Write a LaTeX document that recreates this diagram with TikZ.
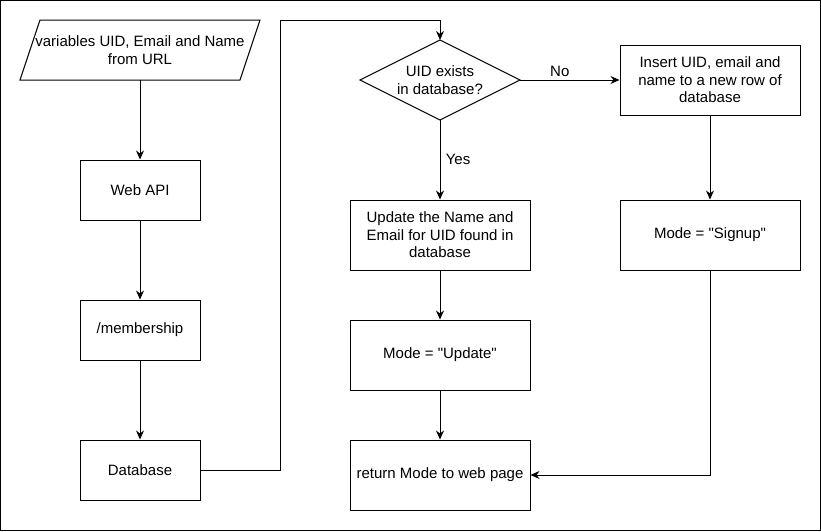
\documentclass[tikz,border=0pt]{standalone}
\usepackage{fontspec}
\setmainfont{Liberation Sans}
\usepackage{tikz}
\usetikzlibrary{arrows.meta}

\tikzset{
	box/.style={draw,line width=1pt,minimum width=120pt,minimum height=60pt,align=center,inner sep=2pt},
	widebox/.style={box,minimum width=180pt,minimum height=70pt},
	frame/.style={minimum width=#1,align=center,inner sep=0pt,outer sep=0pt},
	flow/.style={line width=1pt,-{Stealth[length=9pt,width=8pt]}}
}
\newcommand{\qt}[1]{\textquotedbl#1\textquotedbl}

\begin{document}
\begin{tikzpicture}[x=1pt,y=-1pt,font=\fontsize{15}{17.5}\selectfont]
		\useasboundingbox (0,0) rectangle (821,531);
		\draw[line width=1pt] (0.5,0.5) rectangle (820.5,530.5);
		% left column
		\node[frame=220pt,minimum height=60pt] (vars) at (140,50) {variables UID, Email and Name\\from URL};
		\draw[line width=1pt] ([xshift=-10pt]vars.south west) -- ([xshift=10pt]vars.north west)
			-- ([xshift=10pt]vars.north east) -- ([xshift=-10pt]vars.south east) -- cycle;
		\node[box] (api) at (140,190) {Web API};
		\node[box] (memb) at (140,330) {/membership};
		\node[box] (dbase) at (140,470) {Database};
		% middle column
		\node[frame=160pt,minimum height=80pt] (exists) at (440,80) {UID exists\\in database?};
		\draw[line width=1pt] (exists.north) -- (exists.east) -- (exists.south) -- (exists.west) -- cycle;
		\node[widebox] (update) at (440,235) {Update the Name and\\Email for UID found in\\database};
		\node[widebox] (modeupd) at (440,355) {Mode = \qt{Update}};
		\node[widebox] (ret) at (440,475) {return Mode to web page};
		% right column
		\node[widebox] (insert) at (710,80) {Insert UID, email and\\name to a new row of\\database};
		\node[widebox] (modesig) at (710,235) {Mode = \qt{Signup}};
		\coordinate (bend) at (280,20);

		\draw[flow] (vars) -- (api);
		\draw[flow] (api) -- (memb);
		\draw[flow] (memb) -- (dbase);
		\draw[flow] (dbase.east) -| (bend) -| (exists.north);
		\draw[flow] (exists.east) -- node[above,pos=0.4]{No} (insert);
		\draw[flow] (exists.south) -- node[right,xshift=2pt]{Yes} (update);
		\draw[flow] (update) -- (modeupd);
		\draw[flow] (modeupd) -- (ret);
		\draw[flow] (insert) -- (modesig);
		\draw[flow] (modesig.south) |- (ret.east);
	\end{tikzpicture}
\end{document}
